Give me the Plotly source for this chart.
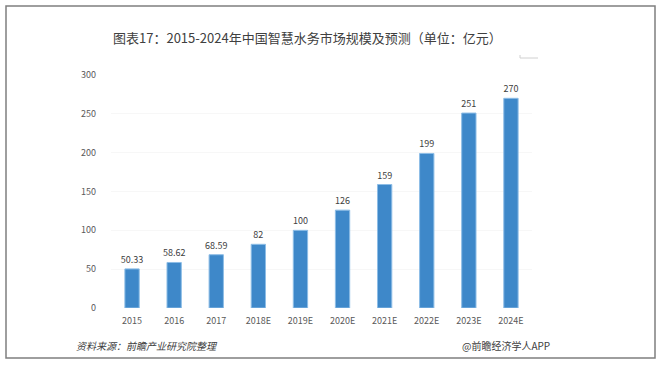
import plotly.graph_objects as go

years = ["2015", "2016", "2017", "2018E", "2019E", "2020E", "2021E", "2022E", "2023E", "2024E"]
values = [50.33, 58.62, 68.59, 82, 100, 126, 159, 199, 251, 270]
labels = ["50.33", "58.62", "68.59", "82", "100", "126", "159", "199", "251", "270"]
y_ticks = [0, 50, 100, 150, 200, 250, 300]

W, H = 662, 366
ml, mr, mt, mb = 111, 130, 75, 58
pw, ph = W - ml - mr, H - mt - mb

def px_x(x):
    return (x - ml) / pw

def px_y(y):
    return (H - mb - y) / ph

font = "Noto Sans CJK SC, Noto Sans, sans-serif"

fig = go.Figure()
fig.add_trace(go.Bar(
    x=years, y=values, text=labels, textposition="outside",
    constraintext="none",
    textfont=dict(size=9, color="#404040", family=font),
    marker=dict(color="#3e88c9", line=dict(width=1, color="#8dbde6")),
    width=0.34, cliponaxis=False, hoverinfo="skip",
))

fig.update_layout(
    width=W, height=H,
    margin=dict(l=ml, r=mr, t=mt, b=mb),
    paper_bgcolor="white", plot_bgcolor="white",
    showlegend=False,
    font=dict(family=font, color="#595959", size=9),
    xaxis=dict(type="category", showgrid=False, showline=False, ticks="",
               tickfont=dict(size=9, color="#595959"), ticklabelstandoff=6),
    yaxis=dict(range=[0, 300], tickvals=y_ticks, showgrid=True, gridcolor="#f7f7f7",
               gridwidth=1, zeroline=False, showline=False, ticks="",
               tickfont=dict(size=9, color="#595959"), ticklabelstandoff=14),
    shapes=[
        dict(type="rect", xref="paper", yref="paper",
             x0=px_x(6), x1=px_x(655), y0=px_y(358), y1=px_y(6),
             line=dict(color="#7f7f7f", width=1.5), fillcolor="rgba(0,0,0,0)"),
        dict(type="line", xref="paper", yref="paper",
             x0=px_x(520), x1=px_x(538), y0=px_y(58), y1=px_y(58),
             line=dict(color="#d0d0d0", width=1)),
        dict(type="line", xref="paper", yref="paper",
             x0=px_x(520), x1=px_x(520), y0=px_y(58), y1=px_y(55),
             line=dict(color="#d0d0d0", width=1)),
    ],
    annotations=[
        dict(text="图表17：2015-2024年中国智慧水务市场规模及预测（单位：亿元）",
             xref="paper", yref="paper", x=px_x(307), y=px_y(37),
             xanchor="center", yanchor="middle", showarrow=False,
             font=dict(size=13, color="#404040", family=font)),
        dict(text="<i>资料来源：前瞻产业研究院整理</i>",
             xref="paper", yref="paper", x=px_x(74), y=px_y(345),
             xanchor="left", yanchor="middle", showarrow=False,
             font=dict(size=10, color="#404040", family=font)),
        dict(text="@前瞻经济学人APP",
             xref="paper", yref="paper", x=px_x(460), y=px_y(345),
             xanchor="left", yanchor="middle", showarrow=False,
             font=dict(size=10, color="#404040", family=font)),
    ],
)

fig.write_html("out.html", config={"displayModeBar": False},
               post_script="document.body.style.margin='0';")
